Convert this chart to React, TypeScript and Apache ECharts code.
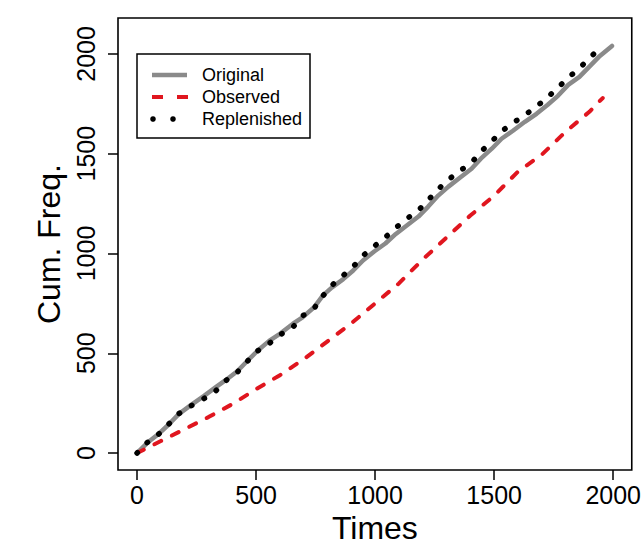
import React, { useEffect, useRef } from "react";
import * as echarts from "echarts";

// ---- Data ----
const originalT = [0, 42, 90, 133, 175, 226, 280, 331, 372, 421, 462, 504, 555, 603, 655, 695, 745, 781, 819, 865, 908, 949, 996, 1043, 1087, 1133, 1182, 1223, 1265, 1308, 1356, 1405, 1444, 1490, 1531, 1579, 1629, 1678, 1725, 1768, 1811, 1858, 1899, 1944, 1995];
const originalV = [0, 50, 95, 143, 195, 240, 285, 330, 365, 410, 460, 510, 562, 600, 648, 680, 732, 790, 830, 870, 915, 965, 1010, 1050, 1098, 1140, 1185, 1235, 1290, 1335, 1380, 1425, 1475, 1525, 1575, 1615, 1660, 1700, 1745, 1790, 1845, 1885, 1935, 1990, 2040];

const observedT = [0, 100, 200, 300, 400, 500, 600, 700, 800, 900, 1000, 1100, 1200, 1300, 1400, 1500, 1600, 1700, 1800, 1900, 1956];
const observedV = [0, 60, 120, 180, 245, 320, 390, 470, 560, 650, 750, 850, 970, 1080, 1190, 1290, 1410, 1495, 1610, 1710, 1779];

const replenishedT = [0, 42, 90, 133, 175, 226, 280, 331, 372, 421, 462, 504, 555, 603, 655, 695, 745, 781, 819, 865, 908, 949, 996, 1043, 1087, 1133, 1182, 1223, 1265, 1308, 1356, 1405, 1444, 1490, 1531, 1579, 1629, 1678, 1725, 1768, 1811, 1858, 1899, 1944];
const replenishedV = [0, 52, 94, 145, 197, 236, 272, 312, 362, 405, 458, 510, 549, 594, 631, 687, 727, 788, 841, 889, 934, 989, 1036, 1081, 1129, 1174, 1216, 1268, 1322, 1370, 1414, 1455, 1510, 1562, 1612, 1654, 1694, 1736, 1783, 1831, 1881, 1928, 1978, 2029];

const xTicks = [0, 500, 1000, 1500, 2000];
const yTicks = [0, 500, 1000, 1500, 2000];

const legendNames = ["Original", "Observed", "Replenished"];

const FONT = "Liberation Sans, Arial, Helvetica, sans-serif";
const GRAY = "#8a8a8a";
const RED = "#e0161f";

const zip = (a: number[], b: number[]) => a.map((v, i) => [v, b[i]]);

export default function App() {
  const ref = useRef<HTMLDivElement>(null);
  useEffect(() => {
    if (!ref.current) return;
    const chart = echarts.init(ref.current, null, { renderer: "svg" });
    const legendX = 137;
    const legendY = 54;
    chart.setOption({
      animation: false,
      backgroundColor: "#ffffff",
      textStyle: { fontFamily: FONT },
      grid: {
        left: 118,
        right: 7,
        top: 18,
        bottom: 85,
        show: true,
        borderColor: "#000",
        borderWidth: 1.6,
        backgroundColor: "transparent",
      },
      xAxis: {
        type: "value",
        min: -80,
        max: 2078,
        name: "Times",
        nameLocation: "middle",
        nameGap: 42,
        nameTextStyle: { fontSize: 32, color: "#000", fontFamily: FONT },
        axisLine: { show: false, onZero: false },
        splitLine: { show: false },
        axisTick: {
          show: true,
          inside: false,
          length: 10,
          customValues: xTicks,
          lineStyle: { color: "#000", width: 1.5 },
        },
        axisLabel: {
          customValues: xTicks,
          formatter: (v: number) => String(v),
          fontSize: 25,
          color: "#000",
          margin: 12,
          fontFamily: FONT,
        },
      },
      yAxis: {
        type: "value",
        min: -85,
        max: 2180,
        name: "Cum. Freq.",
        nameLocation: "middle",
        nameGap: 49,
        nameRotate: 90,
        nameTextStyle: { fontSize: 32, color: "#000", fontFamily: FONT },
        axisLine: { show: false, onZero: false },
        splitLine: { show: false },
        axisTick: {
          show: true,
          inside: false,
          length: 10,
          customValues: yTicks,
          lineStyle: { color: "#000", width: 1.5 },
        },
        axisLabel: {
          customValues: yTicks,
          formatter: (v: number) => String(v),
          rotate: 90,
          fontSize: 25,
          color: "#000",
          margin: 20,
          fontFamily: FONT,
        },
      },
      series: [
        {
          name: legendNames[0],
          type: "line",
          data: zip(originalT, originalV),
          showSymbol: false,
          symbol: "none",
          lineStyle: { color: GRAY, width: 4.5, cap: "round", join: "round" },
          z: 2,
        },
        {
          name: legendNames[1],
          type: "line",
          data: zip(observedT, observedV),
          showSymbol: false,
          symbol: "none",
          lineStyle: { color: RED, width: 4, type: [7.5, 12], cap: "round" },
          z: 3,
        },
        {
          name: legendNames[2],
          type: "line",
          data: zip(replenishedT, replenishedV),
          showSymbol: false,
          symbol: "none",
          lineStyle: { color: "#000", width: 5.5, type: [0.5, 14], cap: "round" },
          z: 4,
        },
      ],
      graphic: [
        {
          type: "rect",
          shape: { x: legendX, y: legendY, width: 173, height: 84 },
          style: { fill: "#fff", stroke: "#000", lineWidth: 1.5 },
          z: 10,
        },
        {
          type: "line",
          shape: { x1: 152, y1: 75, x2: 187, y2: 75 },
          style: { stroke: GRAY, lineWidth: 4.5 },
          z: 11,
        },
        {
          type: "line",
          shape: { x1: 152, y1: 97, x2: 163, y2: 97 },
          style: { stroke: RED, lineWidth: 4 },
          z: 11,
        },
        {
          type: "line",
          shape: { x1: 177, y1: 97, x2: 188, y2: 97 },
          style: { stroke: RED, lineWidth: 4 },
          z: 11,
        },
        { type: "circle", shape: { cx: 153, cy: 119, r: 2.8 }, style: { fill: "#000" }, z: 11 },
        { type: "circle", shape: { cx: 173, cy: 119, r: 2.8 }, style: { fill: "#000" }, z: 11 },
        ...legendNames.map((n, i) => ({
          type: "text",
          x: 202,
          y: 75 + i * 22,
          style: {
            text: n,
            fontSize: 18,
            fontFamily: FONT,
            fill: "#000",
            verticalAlign: "middle",
            align: "left",
          },
          z: 11,
        })),
      ],
    });
    return () => chart.dispose();
  }, []);
  return <div ref={ref} style={{ width: 644, height: 555, position: "absolute", left: 0, top: 0 }} />;
}
